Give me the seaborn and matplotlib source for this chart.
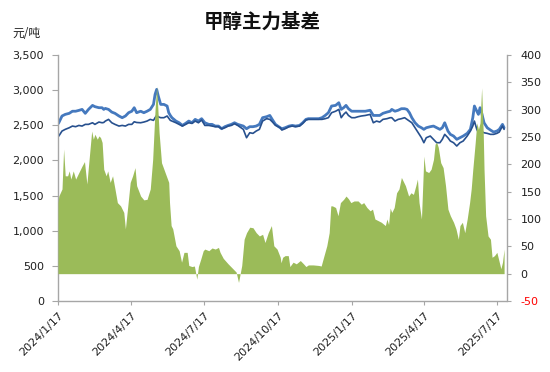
import matplotlib
matplotlib.use("Agg")
import matplotlib.pyplot as plt
import seaborn as sns
import pandas as pd
from matplotlib.ticker import FuncFormatter

# ---------------- data ----------------
basis_dates = [
    "2024-01-17", "2024-01-18", "2024-01-22", "2024-01-24", "2024-01-26", "2024-01-29", "2024-01-31", "2024-02-02", "2024-02-05", "2024-02-08",
    "2024-02-12", "2024-02-16", "2024-02-19", "2024-02-22", "2024-02-24", "2024-02-28", "2024-03-01", "2024-03-03", "2024-03-06", "2024-03-08",
    "2024-03-10", "2024-03-12", "2024-03-14", "2024-03-17", "2024-03-19", "2024-03-22", "2024-03-25", "2024-03-28", "2024-03-31", "2024-04-04",
    "2024-04-08", "2024-04-10", "2024-04-13", "2024-04-16", "2024-04-19", "2024-04-22", "2024-04-24", "2024-04-29", "2024-05-03", "2024-05-07",
    "2024-05-11", "2024-05-14", "2024-05-17", "2024-05-19", "2024-05-22", "2024-05-25", "2024-05-28", "2024-05-31", "2024-06-03", "2024-06-04",
    "2024-06-06", "2024-06-08", "2024-06-12", "2024-06-16", "2024-06-19", "2024-06-22", "2024-06-26", "2024-06-28", "2024-07-02", "2024-07-05",
    "2024-07-08", "2024-07-10", "2024-07-13", "2024-07-16", "2024-07-18", "2024-07-23", "2024-07-27", "2024-07-31", "2024-08-04", "2024-08-06",
    "2024-08-10", "2024-08-16", "2024-08-22", "2024-08-26", "2024-08-29", "2024-09-02", "2024-09-05", "2024-09-08", "2024-09-12", "2024-09-16",
    "2024-09-20", "2024-09-24", "2024-09-28", "2024-10-01", "2024-10-05", "2024-10-09", "2024-10-12", "2024-10-16", "2024-10-20", "2024-10-21",
    "2024-10-23", "2024-10-26", "2024-10-30", "2024-11-01", "2024-11-05", "2024-11-09", "2024-11-14", "2024-11-18", "2024-11-21", "2024-11-24",
    "2024-11-30", "2024-12-07", "2024-12-10", "2024-12-13", "2024-12-17", "2024-12-20", "2024-12-22", "2024-12-24", "2024-12-28", "2024-12-31",
    "2025-01-03", "2025-01-07", "2025-01-10", "2025-01-13", "2025-01-16", "2025-01-20", "2025-01-25", "2025-01-29", "2025-02-01", "2025-02-05",
    "2025-02-09", "2025-02-12", "2025-02-15", "2025-02-19", "2025-02-23", "2025-02-28", "2025-03-02", "2025-03-04", "2025-03-06", "2025-03-08",
    "2025-03-11", "2025-03-14", "2025-03-17", "2025-03-20", "2025-03-23", "2025-03-25", "2025-03-29", "2025-04-01", "2025-04-04", "2025-04-07",
    "2025-04-09", "2025-04-11", "2025-04-14", "2025-04-17", "2025-04-19", "2025-04-23", "2025-04-26", "2025-04-29", "2025-05-01", "2025-05-03",
    "2025-05-05", "2025-05-08", "2025-05-11", "2025-05-14", "2025-05-17", "2025-05-20", "2025-05-24", "2025-05-27", "2025-05-30", "2025-06-01",
    "2025-06-04", "2025-06-07", "2025-06-10", "2025-06-13", "2025-06-15", "2025-06-17", "2025-06-20", "2025-06-22", "2025-06-24", "2025-06-26",
    "2025-06-28", "2025-06-30", "2025-07-01", "2025-07-03", "2025-07-06", "2025-07-09", "2025-07-11", "2025-07-14", "2025-07-17", "2025-07-20",
    "2025-07-22", "2025-07-24", "2025-07-26",
]
basis_values = [
    130, 142, 155, 228, 179, 179, 188, 173, 188, 173,
    185, 197, 205, 164, 197, 261, 246, 255, 246, 252,
    249, 240, 191, 179, 188, 167, 179, 155, 130, 124,
    112, 82, 124, 167, 179, 194, 161, 142, 135, 136,
    155, 209, 301, 343, 258, 203, 191, 179, 167, 130,
    88, 82, 51, 42, 21, 39, 39, 15, 13, 14,
    -10, 13, 27, 42, 45, 42, 47, 45, 48, 39,
    28, 18, 9, 3, -16, 15, 63, 75, 85, 84,
    75, 69, 72, 57, 75, 88, 51, 45, 30, 20,
    30, 33, 33, 13, 21, 18, 24, 18, 13, 16,
    16, 15, 14, 30, 51, 75, 124, 124, 121, 106,
    130, 136, 142, 137, 130, 133, 133, 127, 130, 121,
    115, 118, 100, 97, 94, 88, 100, 90, 120, 112,
    121, 148, 155, 176, 167, 161, 142, 148, 145, 161,
    173, 130, 100, 215, 188, 185, 191, 209, 237, 240,
    231, 203, 194, 161, 118, 106, 94, 82, 63, 88,
    94, 75, 100, 130, 155, 191, 240, 276, 264, 276,
    340, 258, 191, 106, 69, 63, 30, 33, 39, 21,
    9, 21, 45,
]

price_dates = [
    "2024-01-17", "2024-01-18", "2024-01-22", "2024-01-26", "2024-01-31", "2024-02-04", "2024-02-08", "2024-02-12", "2024-02-16", "2024-02-20",
    "2024-02-24", "2024-02-29", "2024-03-03", "2024-03-08", "2024-03-12", "2024-03-14", "2024-03-16", "2024-03-20", "2024-03-24", "2024-03-28",
    "2024-04-02", "2024-04-06", "2024-04-10", "2024-04-14", "2024-04-18", "2024-04-21", "2024-04-24", "2024-04-29", "2024-05-03", "2024-05-07",
    "2024-05-11", "2024-05-15", "2024-05-17", "2024-05-19", "2024-05-21", "2024-05-24", "2024-05-28", "2024-06-01", "2024-06-03", "2024-06-05",
    "2024-06-07", "2024-06-12", "2024-06-16", "2024-06-20", "2024-06-24", "2024-06-28", "2024-07-02", "2024-07-06", "2024-07-10", "2024-07-14",
    "2024-07-18", "2024-07-23", "2024-07-27", "2024-07-31", "2024-08-04", "2024-08-08", "2024-08-12", "2024-08-16", "2024-08-20", "2024-08-24",
    "2024-08-28", "2024-09-04", "2024-09-08", "2024-09-12", "2024-09-16", "2024-09-20", "2024-09-24", "2024-09-28", "2024-10-03", "2024-10-07",
    "2024-10-10", "2024-10-14", "2024-10-20", "2024-10-22", "2024-10-26", "2024-10-31", "2024-11-04", "2024-11-08", "2024-11-13", "2024-11-17",
    "2024-11-21", "2024-11-24", "2024-11-30", "2024-12-07", "2024-12-11", "2024-12-15", "2024-12-19", "2024-12-23", "2024-12-28", "2025-01-01",
    "2025-01-04", "2025-01-07", "2025-01-10", "2025-01-13", "2025-01-17", "2025-01-21", "2025-01-25", "2025-01-29", "2025-02-03", "2025-02-09",
    "2025-02-13", "2025-02-17", "2025-02-21", "2025-02-25", "2025-03-02", "2025-03-06", "2025-03-08", "2025-03-12", "2025-03-16", "2025-03-20",
    "2025-03-24", "2025-03-27", "2025-03-30", "2025-04-02", "2025-04-06", "2025-04-10", "2025-04-14", "2025-04-17", "2025-04-20", "2025-04-25",
    "2025-04-29", "2025-05-03", "2025-05-07", "2025-05-10", "2025-05-13", "2025-05-17", "2025-05-20", "2025-05-24", "2025-05-28", "2025-06-01",
    "2025-06-05", "2025-06-10", "2025-06-14", "2025-06-17", "2025-06-19", "2025-06-22", "2025-06-24", "2025-06-26", "2025-06-28", "2025-07-01",
    "2025-07-05", "2025-07-09", "2025-07-13", "2025-07-17", "2025-07-20", "2025-07-24", "2025-07-26",
]
spot_price = [
    2520, 2536, 2632, 2655, 2670, 2700, 2700, 2712, 2726, 2670,
    2726, 2783, 2765, 2750, 2750, 2726, 2740, 2726, 2688, 2670,
    2632, 2608, 2632, 2679, 2700, 2750, 2679, 2700, 2679, 2700,
    2726, 2797, 2940, 3011, 2916, 2797, 2797, 2774, 2680, 2640,
    2608, 2560, 2536, 2498, 2527, 2560, 2536, 2584, 2560, 2594,
    2536, 2513, 2513, 2489, 2489, 2451, 2480, 2498, 2513, 2536,
    2513, 2489, 2451, 2480, 2480, 2489, 2513, 2608, 2622, 2640,
    2584, 2513, 2465, 2451, 2465, 2489, 2498, 2489, 2498, 2536,
    2584, 2594, 2594, 2594, 2608, 2640, 2679, 2774, 2783, 2821,
    2726, 2750, 2783, 2736, 2700, 2700, 2700, 2700, 2700, 2714,
    2640, 2640, 2640, 2670, 2688, 2700, 2726, 2700, 2714, 2736,
    2736, 2726, 2679, 2608, 2536, 2489, 2465, 2442, 2465, 2480,
    2489, 2465, 2442, 2465, 2536, 2418, 2371, 2347, 2300, 2323,
    2347, 2385, 2442, 2608, 2774, 2700, 2655, 2750, 2679, 2536,
    2465, 2432, 2404, 2418, 2442, 2513, 2465,
]
futures_price = [
    2340, 2347, 2418, 2442, 2465, 2489, 2480, 2498, 2489, 2513,
    2513, 2536, 2513, 2546, 2536, 2540, 2560, 2584, 2536, 2513,
    2489, 2498, 2489, 2513, 2513, 2550, 2540, 2536, 2546, 2560,
    2584, 2570, 2608, 2640, 2620, 2608, 2608, 2632, 2600, 2570,
    2560, 2536, 2513, 2489, 2513, 2536, 2527, 2560, 2536, 2575,
    2498, 2498, 2489, 2480, 2480, 2451, 2465, 2489, 2498, 2522,
    2498, 2442, 2323, 2394, 2385, 2418, 2442, 2560, 2594, 2584,
    2550, 2500, 2465, 2432, 2451, 2480, 2489, 2480, 2489, 2527,
    2575, 2584, 2584, 2584, 2584, 2594, 2608, 2679, 2700, 2726,
    2608, 2655, 2688, 2640, 2608, 2608, 2622, 2632, 2640, 2655,
    2536, 2560, 2546, 2584, 2594, 2608, 2608, 2560, 2584, 2594,
    2608, 2584, 2560, 2536, 2465, 2394, 2323, 2252, 2323, 2347,
    2300, 2252, 2252, 2300, 2371, 2323, 2276, 2252, 2205, 2252,
    2276, 2347, 2418, 2489, 2560, 2442, 2394, 2418, 2408, 2394,
    2385, 2371, 2371, 2385, 2404, 2489, 2442,
]

x_tick_dates = ["2024-01-17", "2024-04-17", "2024-07-17", "2024-10-17",
                "2025-01-17", "2025-04-17", "2025-07-17"]
x_tick_labels = ["2024/1/17", "2024/4/17", "2024/7/17", "2024/10/17",
                 "2025/1/17", "2025/4/17", "2025/7/17"]
left_ticks = [0, 500, 1000, 1500, 2000, 2500, 3000, 3500]
right_ticks = [-50, 0, 50, 100, 150, 200, 250, 300, 350, 400]

title_text = "甲醇主力基差"
unit_text = "元/吨"

# ---------------- style ----------------
sns.set_style("white")
plt.rcParams["font.family"] = ["DejaVu Sans", "Noto Sans CJK SC"]

SPOT_COLOR = "#4579BE"
FUT_COLOR = "#27508E"
AREA_COLOR = "#9BBB59"
AXIS_GRAY = "#A6A6A6"
TEXT_COLOR = "#1F1F1F"

fig = plt.figure(figsize=(5.5, 3.72), dpi=100)
ax = fig.add_axes([58 / 550, 1 - 301 / 372, (506.5 - 58) / 550, (301 - 55) / 372])
ax2 = ax.twinx()

pdates = pd.to_datetime(price_dates)
bdates = pd.to_datetime(basis_dates)

sns.lineplot(x=pdates, y=spot_price, ax=ax, color=SPOT_COLOR, linewidth=2.0)
sns.lineplot(x=pdates, y=futures_price, ax=ax, color=FUT_COLOR, linewidth=1.2)

ax2.fill_between(bdates, 0, basis_values, color=AREA_COLOR, linewidth=0)

ax.set_xlim(pd.Timestamp("2024-01-17"), pd.Timestamp("2025-07-29"))
ax.set_ylim(0, 3500)
ax2.set_ylim(-50, 400)

ax.set_xticks(pd.to_datetime(x_tick_dates))
ax.set_xticklabels(x_tick_labels, rotation=45, ha="right", va="top",
                   rotation_mode="anchor")
ax.set_yticks(left_ticks)
ax.yaxis.set_major_formatter(FuncFormatter(lambda v, p: f"{v:,.0f}"))
ax2.set_yticks(right_ticks)
ax2.set_yticklabels([str(t) for t in right_ticks])
ax2.get_yticklabels()[0].set_color("red")

ax.set_xlabel("")
ax.set_ylabel("")
ax2.set_ylabel("")
ax.grid(False)
ax2.grid(False)

for s in ["top", "right"]:
    ax.spines[s].set_visible(False)
for s in ["top", "left", "bottom"]:
    ax2.spines[s].set_visible(False)
ax.spines["left"].set_color(AXIS_GRAY)
ax.spines["bottom"].set_color(AXIS_GRAY)
ax2.spines["right"].set_color(AXIS_GRAY)
for sp in [ax.spines["left"], ax.spines["bottom"], ax2.spines["right"]]:
    sp.set_linewidth(1.0)

ax.tick_params(axis="y", direction="out", length=4, width=0.8, color=AXIS_GRAY,
               labelsize=8, labelcolor=TEXT_COLOR, pad=6, left=True)
ax.tick_params(axis="x", direction="out", length=3, width=0.8, color=AXIS_GRAY,
               labelsize=8, labelcolor=TEXT_COLOR, pad=4, bottom=True)
ax2.tick_params(axis="y", direction="out", length=3, width=0.8, color=AXIS_GRAY,
                labelsize=8, pad=7, right=True)
for lbl in ax2.get_yticklabels()[1:]:
    lbl.set_color(TEXT_COLOR)

fig.text(0.476, 0.940, title_text, ha="center", va="center", fontsize=14,
         fontweight="bold", family=["Noto Sans CJK SC", "DejaVu Sans"], color="#111111")
fig.text(0.049, 0.911, unit_text, ha="center", va="center", fontsize=8.5,
         family=["Noto Sans CJK SC", "DejaVu Sans"], color=TEXT_COLOR)

fig.savefig("out.png", dpi=100)
